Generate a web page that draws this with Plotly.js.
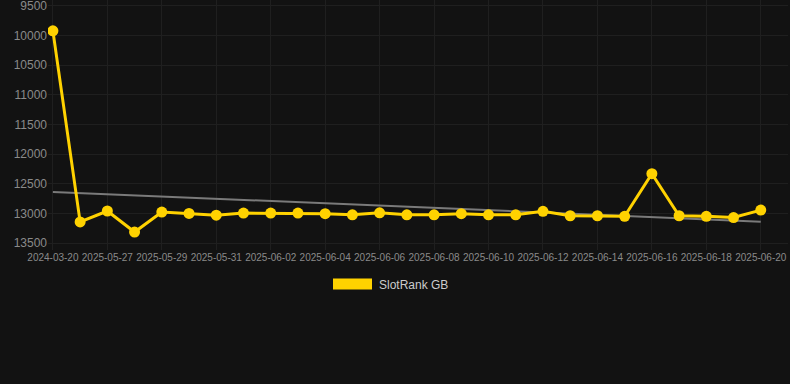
<!DOCTYPE html>
<html>
<head>
<meta charset="utf-8">
<script src="https://cdn.plot.ly/plotly-3.0.1.min.js"></script>
<style>
  html, body { margin: 0; padding: 0; background: #121212; }
  #chart { width: 790px; height: 384px; }
</style>
</head>
<body>
<div id="chart"></div>
<script>
const dates = [
  "2024-03-20", "2025-05-26", "2025-05-27", "2025-05-28", "2025-05-29", "2025-05-30",
  "2025-05-31", "2025-06-01", "2025-06-02", "2025-06-03", "2025-06-04", "2025-06-05",
  "2025-06-06", "2025-06-07", "2025-06-08", "2025-06-09", "2025-06-10", "2025-06-11",
  "2025-06-12", "2025-06-13", "2025-06-14", "2025-06-15", "2025-06-16", "2025-06-17",
  "2025-06-18", "2025-06-19", "2025-06-20"
];
const ranks = [
  9920, 13145, 12960, 13315, 12978, 13000,
  13030, 12995, 12995, 12995, 13005, 13025,
  12990, 13025, 13025, 13005, 13025, 13025,
  12965, 13040, 13040, 13050, 12330, 13040,
  13050, 13070, 12945
];
const seriesName = "SlotRank GB";
const yTicks = [9500, 10000, 10500, 11000, 11500, 12000, 12500, 13000, 13500];

// least-squares trend over the series
const n = ranks.length;
const idx = ranks.map((_, i) => i);
const mx = idx.reduce((a, b) => a + b, 0) / n;
const my = ranks.reduce((a, b) => a + b, 0) / n;
let sxy = 0, sxx = 0;
for (let i = 0; i < n; i++) { sxy += (i - mx) * (ranks[i] - my); sxx += (i - mx) * (i - mx); }
const slope = sxy / sxx;
const icpt = my - slope * mx;
const trend = idx.map(i => icpt + slope * i);

const gold = "#FFD200";
const plotH = 250;

const data = [
  {
    x: dates, y: trend, type: "scatter", mode: "lines",
    line: { color: "#7a7a7a", width: 2 },
    hoverinfo: "skip", showlegend: false
  },
  {
    x: dates, y: ranks, type: "scatter", mode: "lines+markers",
    name: seriesName,
    line: { color: gold, width: 3 },
    marker: { color: gold, size: 11 },
    showlegend: false
  }
];

const layout = {
  width: 790, height: 384,
  paper_bgcolor: "#121212",
  plot_bgcolor: "#121212",
  margin: { l: 48, r: 2, t: 0, b: 134 },
  showlegend: false,
  font: { family: "Liberation Sans, Arial, sans-serif", color: "#8a8a8a" },
  xaxis: {
    type: "category",
    range: [-0.18, 27.0],
    tickvals: dates.filter((_, i) => i % 2 === 0),
    ticktext: dates.filter((_, i) => i % 2 === 0),
    tickangle: 0,
    tickfont: { size: 10, color: "#8a8a8a" },
    showgrid: true, gridcolor: "#1f1f1f", gridwidth: 1,
    zeroline: false, showline: false,
    ticks: "", ticklen: 0
  },
  yaxis: {
    range: [13618, 9399],
    tickvals: yTicks,
    ticktext: yTicks.map(String),
    ticklabeloverflow: "allow",
    tickfont: { size: 12, color: "#8a8a8a" },
    showgrid: true, gridcolor: "#1f1f1f", gridwidth: 1,
    zeroline: false, showline: false,
    ticks: "", ticklen: 0
  },
  shapes: [
    { type: "rect", xref: "paper", yref: "paper",
      x0: (333 - 48) / 740, x1: (372 - 48) / 740,
      y0: (plotH - 289.5) / plotH, y1: (plotH - 278.5) / plotH,
      fillcolor: gold, line: { width: 0 } }
  ],
  annotations: [
    { xref: "paper", yref: "paper",
      x: (377 - 48) / 740, y: (plotH - 284.5) / plotH,
      xanchor: "left", yanchor: "middle", showarrow: false,
      text: seriesName,
      font: { size: 12, color: "#cccccc", family: "Liberation Sans, Arial, sans-serif" } }
  ]
};

Plotly.newPlot("chart", data, layout, { displayModeBar: false, staticPlot: true });
</script>
</body>
</html>
